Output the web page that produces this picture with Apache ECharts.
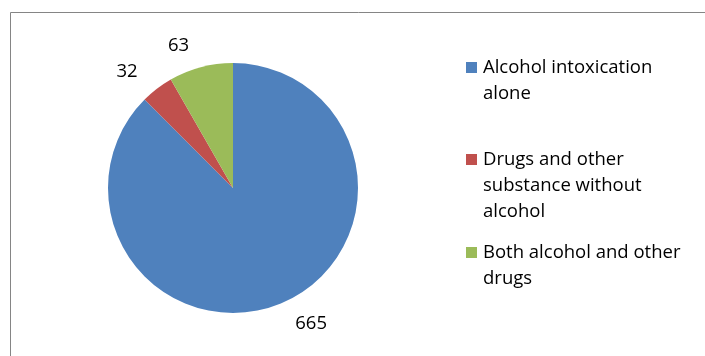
<!DOCTYPE html>
<html>
<head>
<meta charset="utf-8">
<script src="https://cdn.jsdelivr.net/npm/echarts@6/dist/echarts.min.js"></script>
<style>
  html, body { margin: 0; padding: 0; background: #fff; }
  #chart { width: 705px; height: 356px; }
</style>
</head>
<body>
<div id="chart"></div>
<script>
// data
const categories = [
  'Alcohol intoxication alone',
  'Drugs and other substance without alcohol',
  'Both alcohol and other drugs'
];
const values = [665, 32, 63];
const colors = ['#4F81BD', '#C0504D', '#9BBB59'];
// legend text split into lines as in the picture
const legendLines = [
  ['Alcohol intoxication', 'alone'],
  ['Drugs and other', 'substance without', 'alcohol'],
  ['Both alcohol and other', 'drugs']
];
const legendTops = [58, 150, 243];

const chart = echarts.init(document.getElementById('chart'));

const font = '"Open Sans", sans-serif';
const rich = {
  t: { fontFamily: font, fontSize: 18.5, color: '#000', lineHeight: 26, verticalAlign: 'middle' },
  g: { width: 6, height: 11 },
  s: { width: 17, height: 11 }
};
colors.forEach((c, i) => {
  rich['m' + i] = { width: 11, height: 11, lineHeight: 11, backgroundColor: c, verticalAlign: 'middle' };
});

function legendText(name) {
  const i = categories.indexOf(name);
  return legendLines[i].map((line, k) =>
    (k === 0 ? '{m' + i + '|}{g|}' : '{s|}') + '{t|' + line + '}'
  ).join('\n');
}

chart.setOption({
  animation: false,
  color: colors,
  graphic: [{
    type: 'rect',
    shape: { x: 10.5, y: 12.5, width: 720, height: 360 },
    style: { fill: 'none', stroke: '#858585', lineWidth: 1 },
    silent: true
  }],
  legend: categories.map((name, i) => ({
    data: [name],
    orient: 'vertical',
    left: 461,
    top: legendTops[i],
    padding: 0,
    icon: 'none',
    itemWidth: 0,
    itemHeight: 11,
    selectedMode: false,
    formatter: legendText,
    textStyle: { rich: rich }
  })),
  series: [{
    type: 'pie',
    center: [233, 188],
    radius: 125,
    startAngle: 90,
    clockwise: true,
    avoidLabelOverlap: false,
    itemStyle: { borderWidth: 0 },
    label: {
      show: true,
      position: 'outside',
      formatter: '{c}',
      fontFamily: font,
      fontSize: 18.5,
      color: '#000'
    },
    labelLine: { show: false, length: 22, length2: 1 },
    emphasis: { disabled: true },
    data: categories.map((name, i) => ({ name: name, value: values[i] }))
  }]
});
</script>
</body>
</html>
